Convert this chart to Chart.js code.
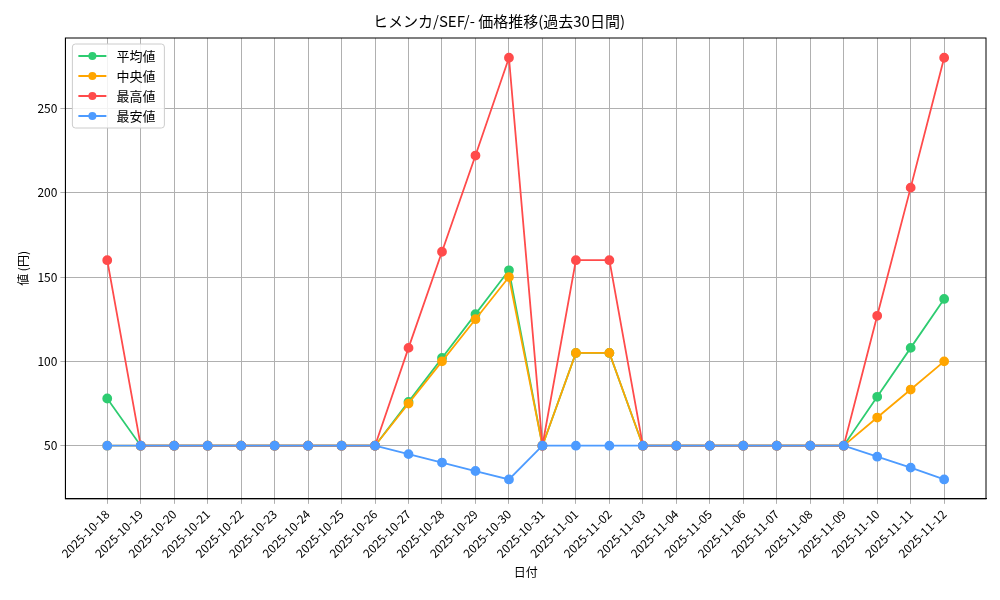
<!DOCTYPE html>
<html><head><meta charset="utf-8">
<script src="https://cdn.jsdelivr.net/npm/chart.js@4"></script>
<style>html,body{margin:0;padding:0;background:#fff}#w{width:1000px;height:600px}</style>
</head><body><div id="w"><canvas id="c"></canvas></div>
<script>
const dates=["2025-10-18","2025-10-19","2025-10-20","2025-10-21","2025-10-22","2025-10-23","2025-10-24","2025-10-25","2025-10-26","2025-10-27","2025-10-28","2025-10-29","2025-10-30","2025-10-31","2025-11-01","2025-11-02","2025-11-03","2025-11-04","2025-11-05","2025-11-06","2025-11-07","2025-11-08","2025-11-09","2025-11-10","2025-11-11","2025-11-12"];
const avgVals=[78,50,50,50,50,50,50,50,50,76,102,128,154,50,105,105,50,50,50,50,50,50,50,79,108,137];
const medVals=[50,50,50,50,50,50,50,50,50,75,100,125,150,50,105,105,50,50,50,50,50,50,50,66.7,83.3,100];
const maxVals=[160,50,50,50,50,50,50,50,50,108,165,222,280,50,160,160,50,50,50,50,50,50,50,127,203,280];
const minVals=[50,50,50,50,50,50,50,50,50,45,40,35,30,50,50,50,50,50,50,50,50,50,50,43.5,37,30];
const yTicks=[50,100,150,200,250];
const F="'Noto Sans CJK JP', sans-serif";
Chart.defaults.font.family=F;Chart.defaults.color="#000";
const mk=(label,vals,col,ord)=>({label,order:ord,data:vals.map((v,i)=>({x:i,y:v})),borderColor:col,backgroundColor:col,pointRadius:4,pointHoverRadius:4,borderWidth:1.8,tension:0});
const sets=[mk("平均値",avgVals,"#2ecc71",4),mk("中央値",medVals,"#ffa500",3),mk("最高値",maxVals,"#ff4b4b",2),mk("最安値",minVals,"#4d9bff",1)];
const legendPlug={id:"lg",afterDraw(ch){const c=ch.ctx,a=ch.chartArea;
c.save();c.strokeStyle="#000";c.lineWidth=1;c.strokeRect(a.left,a.top,a.right-a.left,a.bottom-a.top);
const x=a.left+7,y=a.top+6,w=92,h=84;
c.fillStyle="rgba(255,255,255,0.85)";c.strokeStyle="#ccc";c.beginPath();c.roundRect(x,y,w,h,3);c.fill();c.stroke();
c.font="13px "+F;c.textBaseline="middle";
ch.data.datasets.forEach((d,i)=>{const yy=y+12+i*20;c.strokeStyle=d.borderColor;c.lineWidth=2;c.beginPath();c.moveTo(x+6,yy);c.lineTo(x+34,yy);c.stroke();
c.fillStyle=d.borderColor;c.beginPath();c.arc(x+20,yy,4,0,7);c.fill();c.fillStyle="#000";c.fillText(d.label,x+44,yy);});c.restore();}};
new Chart(document.getElementById("c"),{type:"line",data:{datasets:sets},plugins:[legendPlug],
options:{responsive:true,maintainAspectRatio:false,animation:false,
layout:{padding:{left:12,right:14,top:4,bottom:16}},
plugins:{legend:{display:false},tooltip:{enabled:false},title:{display:true,text:"ヒメンカ/SEF/- 価格推移(過去30日間)",font:{size:15,weight:"normal"},padding:{top:8,bottom:8}}},
scales:{x:{type:"linear",min:-1.25,max:26.25,afterBuildTicks:s=>{s.ticks=dates.map((d,i)=>({value:i}));},
ticks:{callback:v=>dates[v],maxRotation:45,minRotation:45,autoSkip:false,font:{size:12}},
grid:{color:"#b0b0b0",drawTicks:true,tickLength:5},border:{color:"#000"},title:{display:true,text:"日付",font:{size:12},padding:{top:2}}},
y:{min:18.5,max:291.7,afterBuildTicks:s=>{s.ticks=yTicks.map(v=>({value:v}));},ticks:{font:{size:12}},
grid:{color:"#b0b0b0",tickLength:5},border:{color:"#000"},title:{display:true,text:"値 (円)",font:{size:12}}}}}});
</script></body></html>
